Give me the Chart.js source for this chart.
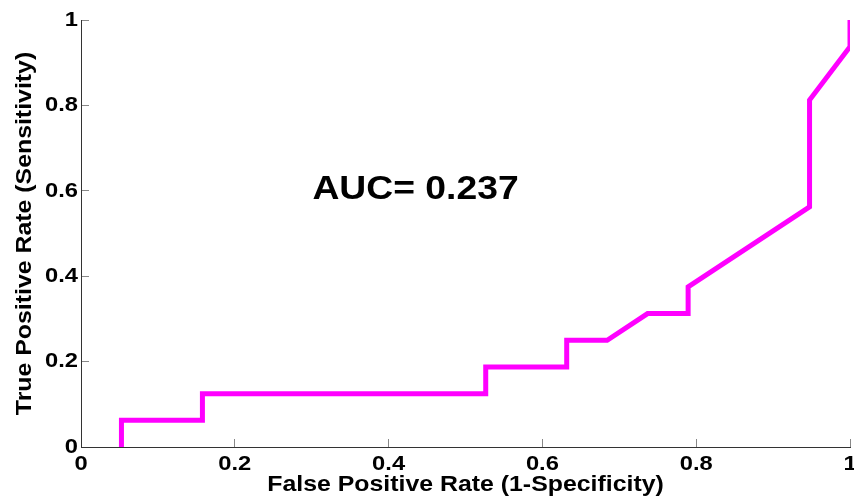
<!DOCTYPE html>
<html>
<head>
<meta charset="utf-8">
<script src="https://cdn.jsdelivr.net/npm/chart.js@4/dist/chart.umd.min.js"></script>
<style>
html,body{margin:0;padding:0;background:#fff;}
#wrap{width:854px;height:503px;}
</style>
</head>
<body>
<div id="wrap"><canvas id="c" width="854" height="503"></canvas></div>
<script>
// ROC curve points
const fpr = [0.0526, 0.0526, 0.1579, 0.1579, 0.5263, 0.5263, 0.6316, 0.6316, 0.6842, 0.7368, 0.7895, 0.7895, 0.9474, 0.9474, 1.0, 1.0];
const tpr = [0, 0.0625, 0.0625, 0.125, 0.125, 0.1875, 0.1875, 0.25, 0.25, 0.3125, 0.3125, 0.375, 0.5625, 0.8125, 0.9375, 1.0];
const xTitle = 'False Positive Rate (1-Specificity)';
const yTitle = 'True Positive Rate (Sensitivity)';
const aucLabel = 'AUC= 0.237';
const aucPos = [0.435, 0.581];
const axisMin = 0, axisMax = 1, tickStep = 0.2;

const FONT = '"Liberation Sans", Arial, Helvetica, sans-serif';
const STRETCH = 1.13;

const stretchPlugin = {
  id: 'stretch',
  beforeDraw(chart) {
    const ctx = chart.ctx;
    if (!ctx._origFill) {
      ctx._origFill = ctx.fillText;
    }
    const orig = ctx._origFill;
    ctx.fillText = function (t, x, y) {
      this.save();
      this.translate(x, y);
      this.scale(STRETCH, 1);
      orig.call(this, t, 0, 0);
      this.restore();
    };
  },
  afterDraw(chart) {
    const ctx = chart.ctx;
    const xs = chart.scales.x, ys = chart.scales.y;
    ctx.save();
    ctx.font = 'bold 33px ' + FONT;
    ctx.fillStyle = '#000';
    ctx.textAlign = 'center';
    ctx.textBaseline = 'alphabetic';
    ctx.fillText(aucLabel, xs.getPixelForValue(aucPos[0]), ys.getPixelForValue(aucPos[1]));
    ctx.restore();
    if (ctx._origFill) ctx.fillText = ctx._origFill;
  }
};

const fmt = v => String(Number(Number(v).toFixed(2)));
const points = fpr.map((v, i) => ({x: v, y: tpr[i]}));

new Chart(document.getElementById('c'), {
  type: 'scatter',
  data: {
    datasets: [{
      data: points,
      showLine: true,
      borderColor: '#ff00ff',
      backgroundColor: '#ff00ff',
      borderWidth: 5,
      pointRadius: 0,
      pointHoverRadius: 0,
      tension: 0,
      borderJoinStyle: 'miter',
      borderCapStyle: 'butt',
      clip: 0
    }]
  },
  options: {
    responsive: false,
    animation: false,
    devicePixelRatio: 1,
    events: [],
    layout: {padding: {left: 0, right: 4, top: 20, bottom: 0}},
    plugins: {legend: {display: false}, tooltip: {enabled: false}},
    scales: {
      x: {
        type: 'linear',
        min: axisMin, max: axisMax,
        afterFit(s) { s.height = 56; s.paddingLeft = 0; s.paddingRight = 0; },
        ticks: {stepSize: tickStep, callback: fmt, color: '#000', font: {family: FONT, size: 21, weight: 'bold'}, padding: 13, maxRotation: 0, autoSkip: false},
        grid: {drawOnChartArea: false, drawTicks: true, tickLength: -8, color: '#888', lineWidth: 1},
        border: {display: true, color: '#333', width: 1},
        title: {display: true, text: xTitle, color: '#000', font: {family: FONT, size: 22, weight: 'bold'}, padding: {top: 0, bottom: 5}}
      },
      y: {
        type: 'linear',
        min: axisMin, max: axisMax,
        afterFit(s) { s.width = 81; s.paddingTop = 0; s.paddingBottom = 0; },
        ticks: {stepSize: tickStep, callback: fmt, color: '#000', font: {family: FONT, size: 21, weight: 'bold'}, padding: 11},
        grid: {drawOnChartArea: false, drawTicks: true, tickLength: -8, color: '#888', lineWidth: 1},
        border: {display: true, color: '#333', width: 1},
        title: {display: true, text: yTitle, color: '#000', font: {family: FONT, size: 22, weight: 'bold'}, padding: {top: 12, bottom: 0}}
      }
    }
  },
  plugins: [stretchPlugin]
});
</script>
</body>
</html>
